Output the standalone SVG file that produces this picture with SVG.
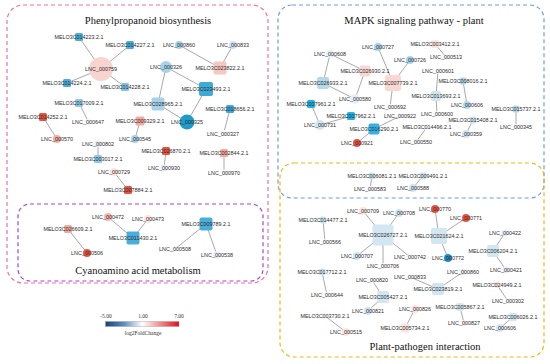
<svg xmlns="http://www.w3.org/2000/svg" width="550" height="364" viewBox="0 0 550 364">
<defs>
<linearGradient id="lg" x1="0" y1="0" x2="1" y2="0">
<stop offset="0" stop-color="#17407a"/>
<stop offset="0.25" stop-color="#5d8cc0"/>
<stop offset="0.5" stop-color="#ffffff"/>
<stop offset="0.75" stop-color="#f08a8a"/>
<stop offset="1" stop-color="#e0101c"/>
</linearGradient>
</defs>
<style>
.box{fill:none;stroke-width:1.2;stroke-dasharray:4 3}
.title{font-family:"Liberation Serif",serif;font-size:10.5px;fill:#111;text-anchor:middle}
.lab{font-family:"Liberation Sans",Arial,sans-serif;font-size:5.4px;fill:#2a2a2a;text-anchor:middle;dominant-baseline:central}
.leg{font-family:"Liberation Serif",serif;font-size:5.5px;fill:#333;text-anchor:middle}
.e line{stroke:#6e6e6e;stroke-width:0.6}
.red{fill:#e8533f}.pink{fill:#f3aaa1}.lpink{fill:#f7d4cf}.fpink{fill:#fbe5e1}
.mblue{fill:#4aaedb}.dblue{fill:#1e9bc9}.cyan{fill:#1fb3ea}.lblue{fill:#a6d3e9}.xblue{fill:#cfe5f1}.faint{fill:#e6f1f7}
</style>
<rect width="550" height="364" fill="#fff"/>
<rect class="box" x="7" y="5" width="261" height="278" rx="16" stroke="#f26ea4"/>
<rect class="box" x="18" y="204" width="245" height="77" rx="12" stroke="#a545d6"/>
<rect class="box" x="278" y="5" width="266" height="193" rx="14" stroke="#6a9de3"/>
<rect class="box" x="280" y="163" width="264" height="194" rx="14" stroke="#f5b50c"/>
<text class="title" x="148" y="24">Phenylpropanoid biosynthesis</text>
<text class="title" x="138" y="274">Cyanoamino acid metabolism</text>
<text class="title" x="414" y="24">MAPK signaling pathway - plant</text>
<text class="title" x="425" y="350">Plant-pathogen interaction</text>
<g id="edges" class="e">
<line x1="101" y1="69" x2="79" y2="37"/><line x1="101" y1="69" x2="130" y2="45"/><line x1="101" y1="69" x2="67" y2="83"/><line x1="101" y1="69" x2="125" y2="87"/>
<line x1="179" y1="45" x2="220" y2="68"/><line x1="233" y1="45" x2="220" y2="68"/>
<line x1="166" y1="67" x2="158" y2="104"/><line x1="166" y1="67" x2="206" y2="89"/>
<line x1="206" y1="89" x2="187" y2="122"/><line x1="158" y1="104" x2="187" y2="122"/>
<line x1="230" y1="109" x2="224" y2="132"/>
<line x1="79" y1="103" x2="88" y2="121"/>
<line x1="43" y1="117" x2="57" y2="139"/>
<line x1="140" y1="121" x2="135" y2="139"/>
<line x1="98" y1="144" x2="98" y2="159"/>
<line x1="166" y1="151" x2="164" y2="168"/>
<line x1="224" y1="153" x2="224" y2="173"/>
<line x1="114" y1="172" x2="128" y2="190"/>
<line x1="108" y1="217" x2="133" y2="238"/><line x1="148" y1="219" x2="133" y2="238"/>
<line x1="68" y1="229" x2="87" y2="253"/>
<line x1="206" y1="224" x2="175" y2="249"/><line x1="206" y1="224" x2="217" y2="255"/>
<line x1="330" y1="54" x2="323" y2="83"/><line x1="330" y1="54" x2="365" y2="71"/>
<line x1="365" y1="71" x2="355" y2="99"/><line x1="323" y1="83" x2="355" y2="99"/>
<line x1="378" y1="47" x2="393" y2="83"/><line x1="410" y1="60" x2="393" y2="83"/><line x1="393" y1="83" x2="390" y2="107"/>
<line x1="435" y1="44" x2="446" y2="57"/>
<line x1="438" y1="71" x2="436" y2="96"/><line x1="436" y1="96" x2="437" y2="114"/>
<line x1="463" y1="81" x2="467" y2="105"/>
<line x1="516" y1="109" x2="516" y2="127"/>
<line x1="311" y1="104" x2="320" y2="125"/><line x1="351" y1="116" x2="320" y2="125"/>
<line x1="400" y1="116" x2="374" y2="129"/><line x1="374" y1="129" x2="357" y2="143"/>
<line x1="427" y1="127" x2="416" y2="142"/>
<line x1="473" y1="120" x2="466" y2="134"/>
<line x1="372" y1="176" x2="370" y2="189"/><line x1="423" y1="176" x2="413" y2="188"/>
<line x1="383" y1="235" x2="363" y2="211"/><line x1="383" y1="235" x2="399" y2="213"/><line x1="383" y1="235" x2="357" y2="256"/><line x1="383" y1="235" x2="383" y2="266"/><line x1="383" y1="235" x2="410" y2="257"/>
<line x1="439" y1="236" x2="435" y2="209"/><line x1="439" y1="236" x2="466" y2="218"/><line x1="439" y1="236" x2="448" y2="258"/>
<line x1="323" y1="220" x2="325" y2="242"/>
<line x1="505" y1="233" x2="493" y2="251"/><line x1="493" y1="251" x2="506" y2="270"/>
<line x1="322" y1="272" x2="327" y2="295"/>
<line x1="438" y1="289" x2="410" y2="277"/><line x1="438" y1="289" x2="463" y2="272"/>
<line x1="372" y1="280" x2="383" y2="297"/><line x1="383" y1="297" x2="368" y2="311"/>
<line x1="497" y1="285" x2="508" y2="301"/>
<line x1="415" y1="309" x2="405" y2="328"/>
<line x1="460" y1="307" x2="464" y2="323"/>
<line x1="325" y1="316" x2="346" y2="332"/>
<line x1="513" y1="317" x2="500" y2="328"/>
</g>
<g id="n_MELO3C014223"><rect class="mblue" x="75" y="33" width="8" height="8" rx="1.5"/><text class="lab" x="79" y="37">MELO3C014223.2.1</text></g>
<g id="n_MELO3C014227"><rect class="mblue" x="126" y="41" width="8" height="8" rx="1.5"/><text class="lab" x="130" y="45">MELO3C014227.2.1</text></g>
<g id="n_LNC_000759_p"><circle class="lpink" cx="101" cy="69" r="12"/><text class="lab" x="101" y="69">LNC_000759</text></g>
<g id="n_MELO3C014224"><rect class="mblue" x="63" y="79" width="8" height="8" rx="1.5"/><text class="lab" x="67" y="83">MELO3C014224.2.1</text></g>
<g id="n_MELO3C014228"><rect class="lblue" x="121" y="83" width="8" height="8" rx="1.5" style="fill:#7fc3e4"/><text class="lab" x="125" y="87">MELO3C014228.2.1</text></g>
<g id="n_LNC_000860_p"><circle class="lblue" cx="179" cy="45" r="4"/><text class="lab" x="179" y="45">LNC_000860</text></g>
<g id="n_LNC_000833_p"><circle class="xblue" cx="233" cy="45" r="4"/><text class="lab" x="233" y="45">LNC_000833</text></g>
<g id="n_MELO3C023822"><rect class="lpink" x="213.5" y="61.5" width="13" height="13" rx="2" style="fill:#f6c7c1"/><text class="lab" x="220" y="68">MELO3C023822.2.1</text></g>
<g id="n_LNC_000326"><circle class="lblue" cx="166" cy="67" r="6"/><text class="lab" x="166" y="67">LNC_000326</text></g>
<g id="n_MELO3C023493"><rect class="mblue" x="199" y="82" width="14" height="14" rx="2" style="fill:#3eaad8"/><text class="lab" x="206" y="89">MELO3C023493.2.1</text></g>
<g id="n_MELO3C017009"><rect class="lblue" x="75" y="99" width="8" height="8" rx="1.5" style="fill:#8dc9e6"/><text class="lab" x="79" y="103">MELO3C017009.2.1</text></g>
<g id="n_MELO3C028965"><rect class="lblue" x="151.5" y="97.5" width="13" height="13" rx="2"/><text class="lab" x="158" y="104">MELO3C028965.2.1</text></g>
<g id="n_MELO3C018656"><rect class="mblue" x="226" y="105" width="8" height="8" rx="1.5" style="fill:#3ea6d8"/><text class="lab" x="230" y="109">MELO3C018656.2.1</text></g>
<g id="n_MELO3C014252"><rect class="red" x="39" y="113" width="8" height="8" rx="1.5"/><text class="lab" x="43" y="117">MELO3C014252.2.1</text></g>
<g id="n_LNC_000647"><circle class="faint" cx="88" cy="122" r="3" style="fill:#f2f8fb"/><text class="lab" x="88" y="122">LNC_000647</text></g>
<g id="n_MELO3C009329"><rect class="pink" x="135.5" y="116.5" width="9" height="9" rx="1.5"/><text class="lab" x="140" y="121">MELO3C009329.2.1</text></g>
<g id="n_LNC_000325"><circle class="dblue" cx="187" cy="122" r="7.5"/><text class="lab" x="187" y="122">LNC_000325</text></g>
<g id="n_LNC_000327"><circle class="faint" cx="224" cy="133" r="3" style="fill:#f2f8fb"/><text class="lab" x="223" y="133.5">LNC_000327</text></g>
<g id="n_LNC_000570"><circle class="pink" cx="57" cy="139" r="4"/><text class="lab" x="57" y="139">LNC_000570</text></g>
<g id="n_LNC_000545"><circle class="lblue" cx="135" cy="139" r="4"/><text class="lab" x="135" y="139">LNC_000545</text></g>
<g id="n_LNC_000802"><circle class="faint" cx="98" cy="144" r="3.5"/><text class="lab" x="98" y="144">LNC_000802</text></g>
<g id="n_MELO3C003017"><rect class="lblue" x="94" y="155" width="8" height="8" rx="1.5" style="fill:#8dc9e6"/><text class="lab" x="98" y="159">MELO3C003017.2.1</text></g>
<g id="n_MELO3C026870"><rect class="red" x="162" y="147" width="8" height="8" rx="1.5"/><text class="lab" x="166" y="151">MELO3C026870.2.1</text></g>
<g id="n_LNC_000930"><circle class="faint" cx="164" cy="168" r="3.5"/><text class="lab" x="164" y="168">LNC_000930</text></g>
<g id="n_MELO3C002844"><rect class="pink" x="220" y="149" width="8" height="8" rx="1.5"/><text class="lab" x="224" y="153">MELO3C002844.2.1</text></g>
<g id="n_LNC_000970"><circle class="faint" cx="224" cy="173" r="3.5" style="fill:#f2f8fb"/><text class="lab" x="224" y="173">LNC_000970</text></g>
<g id="n_LNC_000729"><circle class="fpink" cx="114" cy="172" r="4"/><text class="lab" x="114" y="172">LNC_000729</text></g>
<g id="n_MELO3C007884"><rect class="red" x="124" y="186" width="8" height="8" rx="1.5"/><text class="lab" x="128" y="190">MELO3C007884.2.1</text></g>
<g id="n_LNC_000472"><circle class="pink" cx="108" cy="217" r="4" style="fill:#f5b6ad"/><text class="lab" x="108" y="217">LNC_000472</text></g>
<g id="n_LNC_000473"><circle class="fpink" cx="148" cy="219" r="4"/><text class="lab" x="148" y="219">LNC_000473</text></g>
<g id="n_MELO3C009789"><rect class="mblue" x="199.5" y="217.5" width="13" height="13" rx="2"/><text class="lab" x="206" y="224">MELO3C009789.2.1</text></g>
<g id="n_MELO3C026609"><rect class="pink" x="64" y="225" width="8" height="8" rx="1.5"/><text class="lab" x="68" y="229">MELO3C026609.2.1</text></g>
<g id="n_MELO3C011430"><rect class="mblue" x="126.5" y="231.5" width="13" height="13" rx="2"/><text class="lab" x="133" y="238">MELO3C011430.2.1</text></g>
<g id="n_LNC_000506"><circle class="red" cx="87" cy="253" r="4"/><text class="lab" x="87" y="253">LNC_000506</text></g>
<g id="n_LNC_000508"><circle class="faint" cx="175" cy="249" r="3" style="fill:#f5f9fb"/><text class="lab" x="175" y="249">LNC_000508</text></g>
<g id="n_LNC_000538"><circle class="faint" cx="217" cy="255" r="4"/><text class="lab" x="217" y="255">LNC_000538</text></g>
<g id="n_LNC_000727"><circle class="lblue" cx="378" cy="47" r="4"/><text class="lab" x="378" y="47">LNC_000727</text></g>
<g id="n_MELO3C003412"><rect class="fpink" x="431" y="40" width="8" height="8" rx="1.5"/><text class="lab" x="435" y="44">MELO3C003412.2.1</text></g>
<g id="n_LNC_000513"><circle class="faint" cx="446" cy="57" r="3" style="fill:#f5f9fb"/><text class="lab" x="446" y="57">LNC_000513</text></g>
<g id="n_LNC_000726"><circle class="lblue" cx="410" cy="60" r="4"/><text class="lab" x="410" y="60">LNC_000726</text></g>
<g id="n_LNC_000608_m"><circle class="faint" cx="330" cy="54" r="4"/><text class="lab" x="330" y="54">LNC_000608</text></g>
<g id="n_MELO3C026930"><rect class="lpink" x="359.5" y="65.5" width="11" height="11" rx="2" style="fill:#f9d8d4"/><text class="lab" x="365" y="71">MELO3C026930.2.1</text></g>
<g id="n_MELO3C026933"><rect class="xblue" x="317" y="77" width="12" height="12" rx="2" style="fill:#b5d8ea"/><text class="lab" x="323" y="83">MELO3C026933.2.1</text></g>
<g id="n_MELO3C007739"><rect class="lpink" x="385" y="75" width="16" height="16" rx="2" style="fill:#f9d8d4"/><text class="lab" x="393" y="83">MELO3C007739.2.1</text></g>
<g id="n_LNC_000601"><circle class="faint" cx="438" cy="71" r="3" style="fill:#f5f9fb"/><text class="lab" x="438" y="71">LNC_000601</text></g>
<g id="n_MELO3C008016"><rect class="xblue" x="459.5" y="77.5" width="7" height="7" rx="2" style="fill:#b5d8ea"/><text class="lab" x="463" y="81">MELO3C008016.2.1</text></g>
<g id="n_MELO3C013693"><rect class="xblue" x="431" y="91" width="10" height="10" rx="2"/><text class="lab" x="436" y="96">MELO3C013693.2.1</text></g>
<g id="n_LNC_000580"><circle class="faint" cx="355" cy="99" r="5"/><text class="lab" x="355" y="99">LNC_000580</text></g>
<g id="n_MELO3C007961"><rect class="cyan" x="307" y="100" width="8" height="8" rx="1.5"/><text class="lab" x="311" y="104">MELO3C007961.2.1</text></g>
<g id="n_LNC_000692"><circle class="faint" cx="390" cy="107" r="3" style="fill:#f5f9fb"/><text class="lab" x="390" y="107">LNC_000692</text></g>
<g id="n_LNC_000606_m"><circle class="xblue" cx="467" cy="105" r="4" style="fill:#b5d8ea"/><text class="lab" x="467" y="105">LNC_000606</text></g>
<g id="n_MELO3C015737"><rect class="xblue" x="512.5" y="105.5" width="7" height="7" rx="2" style="fill:#b5d8ea"/><text class="lab" x="516" y="109">MELO3C015737.2.1</text></g>
<g id="n_MELO3C007962"><rect class="cyan" x="347" y="112" width="8" height="8" rx="1.5"/><text class="lab" x="351" y="116">MELO3C007962.2.1</text></g>
<g id="n_LNC_000922"><circle class="faint" cx="400" cy="116" r="3" style="fill:#f5f9fb"/><text class="lab" x="400" y="116">LNC_000922</text></g>
<g id="n_LNC_000600"><circle class="faint" cx="437" cy="114" r="3" style="fill:#f5f9fb"/><text class="lab" x="437" y="114">LNC_000600</text></g>
<g id="n_MELO3C015408"><rect class="xblue" x="469.5" y="116.5" width="7" height="7" rx="2"/><text class="lab" x="473" y="120">MELO3C015408.2.1</text></g>
<g id="n_LNC_000731"><circle class="xblue" cx="320" cy="125" r="5"/><text class="lab" x="320" y="125">LNC_000731</text></g>
<g id="n_MELO3C016290"><rect class="cyan" x="368.5" y="123.5" width="11" height="11" rx="2" style="fill:#34b2e6"/><text class="lab" x="374" y="129">MELO3C016290.2.1</text></g>
<g id="n_MELO3C014496"><rect class="faint" x="424" y="124" width="6" height="6" rx="2" style="fill:#f2f8fb"/><text class="lab" x="427" y="127">MELO3C014496.2.1</text></g>
<g id="n_LNC_000359"><circle class="xblue" cx="466" cy="134" r="4"/><text class="lab" x="466" y="134">LNC_000359</text></g>
<g id="n_LNC_000345"><circle class="faint" cx="516" cy="127" r="3" style="fill:#f5f9fb"/><text class="lab" x="516" y="127">LNC_000345</text></g>
<g id="n_LNC_000921"><circle class="red" cx="357" cy="143" r="4"/><text class="lab" x="357" y="143">LNC_000921</text></g>
<g id="n_LNC_000550"><circle class="faint" cx="416" cy="142" r="3" style="fill:#f5f9fb"/><text class="lab" x="416" y="142">LNC_000550</text></g>
<g id="n_MELO3C006081"><rect class="xblue" x="368.5" y="172.5" width="7" height="7" rx="2"/><text class="lab" x="372" y="176">MELO3C006081.2.1</text></g>
<g id="n_LNC_000583"><circle class="faint" cx="370" cy="189" r="3" style="fill:#f5f9fb"/><text class="lab" x="370" y="189">LNC_000583</text></g>
<g id="n_MELO3C009491"><rect class="xblue" x="419.5" y="172.5" width="7" height="7" rx="2"/><text class="lab" x="423" y="176">MELO3C009491.2.1</text></g>
<g id="n_LNC_000588"><circle class="xblue" cx="413" cy="188" r="4"/><text class="lab" x="413" y="188">LNC_000588</text></g>
<g id="n_LNC_000709"><circle class="fpink" cx="363" cy="211" r="4"/><text class="lab" x="363" y="211">LNC_000709</text></g>
<g id="n_LNC_000708"><circle class="xblue" cx="399" cy="213" r="4"/><text class="lab" x="399" y="213">LNC_000708</text></g>
<g id="n_LNC_000770"><circle class="red" cx="435" cy="209" r="4"/><text class="lab" x="435" y="209">LNC_000770</text></g>
<g id="n_LNC_000771"><circle class="red" cx="466" cy="218" r="4"/><text class="lab" x="466" y="218">LNC_000771</text></g>
<g id="n_MELO3C014477"><rect class="xblue" x="319.5" y="216.5" width="7" height="7" rx="2"/><text class="lab" x="323" y="220">MELO3C014477.2.1</text></g>
<g id="n_LNC_000566"><circle class="faint" cx="325" cy="242" r="3" style="fill:#f5f9fb"/><text class="lab" x="325" y="242">LNC_000566</text></g>
<g id="n_MELO3C026727"><rect class="xblue" x="372.5" y="224.5" width="21" height="21" rx="3" style="fill:#d3e7f2"/><text class="lab" x="383" y="235">MELO3C026727.2.1</text></g>
<g id="n_MELO3C021624"><rect class="xblue" x="431" y="228" width="16" height="16" rx="2" style="fill:#d3e7f2"/><text class="lab" x="439" y="236">MELO3C021624.2.1</text></g>
<g id="n_LNC_000422"><circle class="faint" cx="505" cy="233" r="3.5"/><text class="lab" x="505" y="233">LNC_000422</text></g>
<g id="n_MELO3C006204"><rect class="xblue" x="487" y="245" width="12" height="12" rx="2" style="fill:#d3e7f2"/><text class="lab" x="493" y="251">MELO3C006204.2.1</text></g>
<g id="n_LNC_000707"><circle class="xblue" cx="357" cy="256" r="4"/><text class="lab" x="357" y="256">LNC_000707</text></g>
<g id="n_LNC_000742"><circle class="faint" cx="410" cy="257" r="3" style="fill:#f5f9fb"/><text class="lab" x="410" y="257">LNC_000742</text></g>
<g id="n_LNC_000772"><circle class="dblue" cx="448" cy="258" r="4" style="fill:#1a8ec6"/><text class="lab" x="448" y="258">LNC_000772</text></g>
<g id="n_LNC_000706"><circle class="faint" cx="383" cy="266" r="3" style="fill:#f5f9fb"/><text class="lab" x="383" y="266">LNC_000706</text></g>
<g id="n_LNC_000421"><circle class="faint" cx="506" cy="270" r="3.5"/><text class="lab" x="506" y="270">LNC_000421</text></g>
<g id="n_MELO3C017712"><rect class="xblue" x="318.5" y="268.5" width="7" height="7" rx="2"/><text class="lab" x="322" y="272">MELO3C017712.2.1</text></g>
<g id="n_LNC_000833_pp"><circle class="faint" cx="410" cy="277" r="3" style="fill:#f5f9fb"/><text class="lab" x="410" y="277">LNC_000833</text></g>
<g id="n_LNC_000860_pp"><circle class="faint" cx="463" cy="272" r="3.5"/><text class="lab" x="463" y="272">LNC_000860</text></g>
<g id="n_LNC_000820"><circle class="faint" cx="372" cy="280" r="3" style="fill:#f5f9fb"/><text class="lab" x="372" y="280">LNC_000820</text></g>
<g id="n_MELO3C023819"><rect class="xblue" x="432" y="283" width="12" height="12" rx="2"/><text class="lab" x="438" y="289">MELO3C023819.2.1</text></g>
<g id="n_MELO3C024949"><rect class="fpink" x="494" y="282" width="6" height="6" rx="2"/><text class="lab" x="497" y="285">MELO3C024949.2.1</text></g>
<g id="n_LNC_000644"><circle class="faint" cx="327" cy="295" r="3" style="fill:#f5f9fb"/><text class="lab" x="327" y="295">LNC_000644</text></g>
<g id="n_MELO3C005427"><rect class="xblue" x="377" y="291" width="12" height="12" rx="2" style="fill:#d3e7f2"/><text class="lab" x="383" y="297">MELO3C005427.2.1</text></g>
<g id="n_LNC_000302"><circle class="faint" cx="508" cy="301" r="3" style="fill:#f5f9fb"/><text class="lab" x="508" y="301">LNC_000302</text></g>
<g id="n_LNC_000821"><circle class="xblue" cx="368" cy="311" r="4"/><text class="lab" x="368" y="311">LNC_000821</text></g>
<g id="n_LNC_000826"><circle class="fpink" cx="415" cy="309" r="4"/><text class="lab" x="415" y="309">LNC_000826</text></g>
<g id="n_MELO3C005867"><rect class="xblue" x="456" y="303" width="8" height="8" rx="2" style="fill:#d3e7f2"/><text class="lab" x="460" y="307">MELO3C005867.2.1</text></g>
<g id="n_MELO3C003730"><rect class="faint" x="322" y="313" width="6" height="6" rx="2" style="fill:#f5f9fb"/><text class="lab" x="325" y="316">MELO3C003730.2.1</text></g>
<g id="n_MELO3C006026"><rect class="xblue" x="509" y="313" width="8" height="8" rx="2" style="fill:#d3e7f2"/><text class="lab" x="513" y="317">MELO3C006026.2.1</text></g>
<g id="n_LNC_000827"><circle class="fpink" cx="464" cy="323" r="3" style="fill:#fcefec"/><text class="lab" x="464" y="323">LNC_000827</text></g>
<g id="n_LNC_000515"><circle class="fpink" cx="346" cy="332" r="4"/><text class="lab" x="346" y="332">LNC_000515</text></g>
<g id="n_MELO3C005734"><rect class="fpink" x="400.5" y="323.5" width="9" height="9" rx="2"/><text class="lab" x="405" y="328">MELO3C005734.2.1</text></g>
<g id="n_LNC_000606_pp"><circle class="xblue" cx="500" cy="328" r="4" style="fill:#d3e7f2"/><text class="lab" x="500" y="328">LNC_000606</text></g>
<g id="legend">
<rect x="105.5" y="321.5" width="73.5" height="5" fill="url(#lg)" stroke="#999" stroke-width="0.4"/>
<text class="leg" x="106" y="318">-5.00</text>
<text class="leg" x="143" y="318">1.00</text>
<text class="leg" x="179" y="318">7.00</text>
<text class="leg" x="143" y="335">log2FoldChange</text>
</g>
</svg>
